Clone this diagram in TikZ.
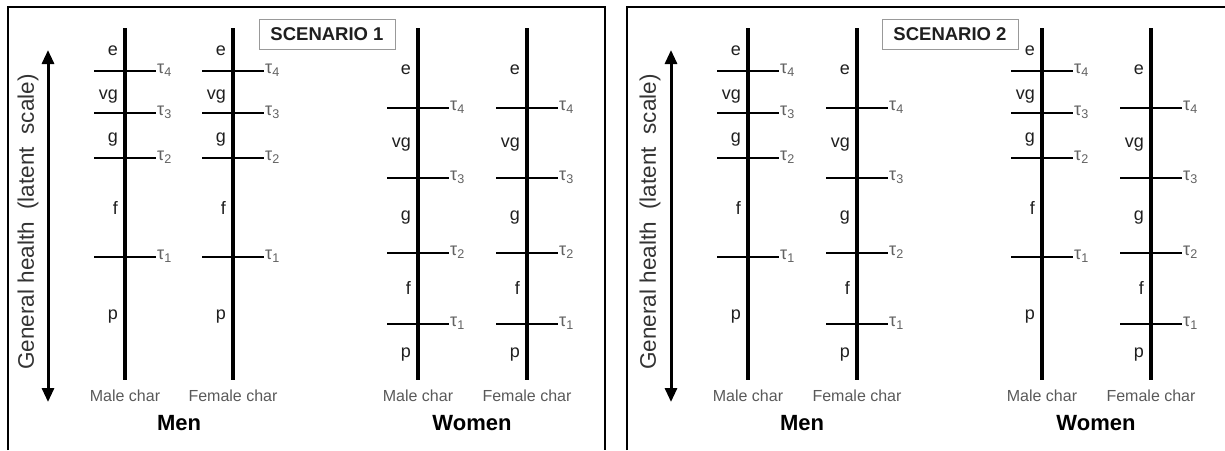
\documentclass[tikz,border=0pt]{standalone}
\usepackage{fontspec}
\setmainfont{Liberation Sans}
\usetikzlibrary{arrows.meta}

% threshold positions (tau_k / y) and category label positions (name / y)
\def\tauA{4/71,3/113,2/158,1/257}
\def\catA{e/53,vg/97,g/140,f/212,p/317}
\def\tauB{4/108,3/178,2/253,1/324}
\def\catB{e/72,vg/145,g/218,f/292,p/355}

% one latent scale: #1 name, #2 x position, #3 thresholds, #4 categories, #5 caption
\newcommand\ladder[5]{%
  \coordinate (#1-top) at (#2,28);
  \coordinate (#1-bot) at (#2,380);
  \draw[axisline] (#1-top) -- (#1-bot);
  \foreach \t/\yy in #3 {
    \coordinate (#1-l\t) at (#2-31,\yy);
    \coordinate (#1-r\t) at (#2+31,\yy);
    \draw[tickline] (#1-l\t) -- (#1-r\t);
    \node[taulabel] (#1-tau\t) at (#1-r\t) {τ\textsubscript{\t}};
  }
  \foreach \c/\yy in #4 {
    \node[catlabel] (#1-\c) at (#2-7,\yy) {\c};
  }
  \node[charlabel] (#1-cap) at (#2,396) {#5};
}

\begin{document}
\begin{tikzpicture}[x=1pt,y=-1pt,
  axisline/.style={line width=4pt},
  tickline/.style={line width=2pt},
  catlabel/.style={anchor=mid east, inner sep=0pt, text=black!88,
    font=\fontsize{18}{20}\selectfont},
  taulabel/.style={anchor=mid west, inner sep=1pt, text=black!62,
    font=\fontsize{18}{20}\selectfont},
  charlabel/.style={inner sep=0pt, text=black!65,
    font=\fontsize{16}{18}\selectfont},
  grouplabel/.style={inner sep=0pt, font=\bfseries\fontsize{22}{24}\selectfont},
  scenariobox/.style={draw=black!40, line width=1pt, fill=white,
    minimum width=136pt, minimum height=30pt, inner sep=0pt,
    font=\bfseries\fontsize{18.5}{20}\selectfont, text=black!88},
  panelframe/.style={line width=2pt},
  healtharrow/.style={line width=3pt,
    {Triangle[length=14pt,width=12pt]}-{Triangle[length=14pt,width=12pt]}},
  healthlabel/.style={rotate=90, inner sep=0pt, text=black!80,
    font=\fontsize{22.5}{24}\selectfont}]
\useasboundingbox (0,0) rectangle (1225,450);

% ---------------- panel frames ----------------
\coordinate (f1a) at (7.5,450);
\coordinate (f1b) at (7.5,7);
\coordinate (f1c) at (605,7);
\coordinate (f1d) at (605,450);
\draw[panelframe] (f1a) -- (f1b) -- (f1c) -- (f1d);
\coordinate (f2a) at (627,450);
\coordinate (f2b) at (627,7);
\coordinate (f2c) at (1225,7);
\draw[panelframe] (f2a) -- (f2b) -- (f2c);

% ---------------- scenario 1 ----------------
\coordinate (h1lo) at (48,402);
\coordinate (h1hi) at (48,50);
\draw[healtharrow] (h1lo) -- (h1hi);
\node[healthlabel] (h1txt) at (28,222) {General health\ \ (latent\ \ scale)};

\ladder{s1mm}{125}{\tauA}{\catA}{Male char}
\ladder{s1mf}{233}{\tauA}{\catA}{Female char}
\ladder{s1wm}{418}{\tauB}{\catB}{Male char}
\ladder{s1wf}{527}{\tauB}{\catB}{Female char}

\node[grouplabel] (s1men) at (179,423) {Men};
\node[grouplabel] (s1women) at (472,423) {Women};
\node[scenariobox] (s1box) at (327,34) {SCENARIO 1};

% ---------------- scenario 2 ----------------
\coordinate (h2lo) at (671,402);
\coordinate (h2hi) at (671,50);
\draw[healtharrow] (h2lo) -- (h2hi);
\node[healthlabel] (h2txt) at (650,222) {General health\ \ (latent\ \ scale)};

\ladder{s2mm}{748}{\tauA}{\catA}{Male char}
\ladder{s2mf}{857}{\tauB}{\catB}{Female char}
\ladder{s2wm}{1042}{\tauA}{\catA}{Male char}
\ladder{s2wf}{1151}{\tauB}{\catB}{Female char}

\node[grouplabel] (s2men) at (802,423) {Men};
\node[grouplabel] (s2women) at (1096,423) {Women};
\node[scenariobox] (s2box) at (950,34) {SCENARIO 2};
\end{tikzpicture}
\end{document}
